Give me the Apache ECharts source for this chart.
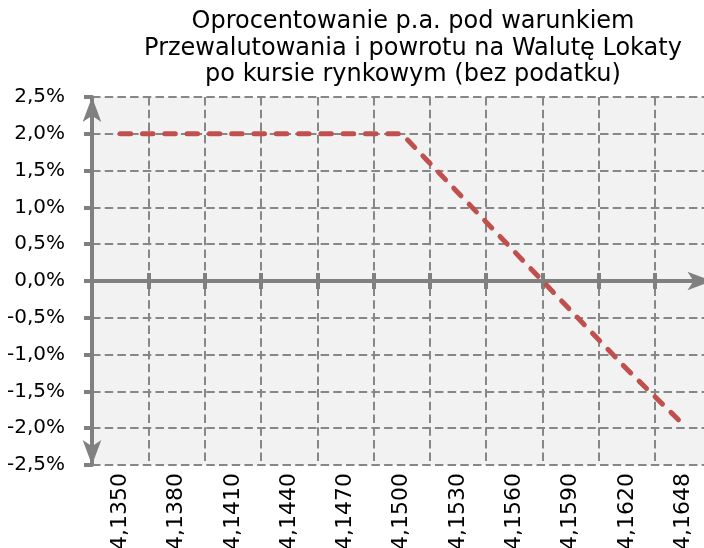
<!DOCTYPE html>
<html>
<head>
<meta charset="utf-8">
<script src="https://cdn.jsdelivr.net/npm/echarts@6/dist/echarts.min.js"></script>
<style>html,body{margin:0;padding:0;background:#fff}#c{width:704px;height:548px}</style>
</head>
<body>
<div id="c"></div>
<script>
const titleLines = ['Oprocentowanie p.a. pod warunkiem', 'Przewalutowania i powrotu na Walutę Lokaty', 'po kursie rynkowym (bez podatku)'];
const categories = ['4,1350', '4,1380', '4,1410', '4,1440', '4,1470', '4,1500', '4,1530', '4,1560', '4,1590', '4,1620', '4,1648'];
const rateValues = [2.0, 2.0, 2.0, 2.0, 2.0, 2.0, 1.2, 0.4, -0.4, -1.2, -1.95];
const yMin = -2.5, yMax = 2.5, yStep = 0.5;

const FONT = 'DejaVu Sans';
const AX = '#808080';
const GRIDC = '#878787';
const fmtPct = v => v.toFixed(1).replace('.', ',') + '%';
const plotRect = {left: 92, right: -7.5, top: 97, bottom: 83};

const chart = echarts.init(document.getElementById('c'), null, {renderer: 'canvas'});
chart.setOption({
  animation: false,
  title: {
    text: titleLines.join('\n'),
    left: 413, top: 9, padding: 0,
    textAlign: 'center',
    textStyle: {fontFamily: FONT, fontSize: 24, fontWeight: 'normal', color: '#000', lineHeight: 26.5}
  },
  grid: [
    Object.assign({show: true, backgroundColor: '#f2f2f2', borderWidth: 0, outerBoundsMode: 'none'}, plotRect),
    Object.assign({show: false, outerBoundsMode: 'none'}, plotRect)
  ],
  xAxis: [
    {
      type: 'category', gridIndex: 0, data: categories, boundaryGap: true, position: 'bottom',
      axisLine: {show: false, onZero: false},
      axisTick: {show: false},
      axisLabel: {interval: 0, rotate: 90, margin: 8, fontFamily: FONT, fontSize: 22, color: '#000'},
      splitLine: {show: true, interval: 0, lineStyle: {color: GRIDC, width: 2, type: [8.5, 4.2]}}
    },
    {
      type: 'category', gridIndex: 0, data: categories, boundaryGap: true, position: 'bottom',
      axisLine: {show: false, onZero: true, onZeroAxisIndex: 0},
      axisTick: {show: true, interval: 0, length: 8, lineStyle: {color: AX, width: 4}},
      axisLabel: {show: false}, splitLine: {show: false}
    },
    {
      type: 'category', gridIndex: 0, data: categories, boundaryGap: true, position: 'top',
      axisLine: {show: false, onZero: true, onZeroAxisIndex: 0},
      axisTick: {show: true, interval: 0, length: 8, lineStyle: {color: AX, width: 4}},
      axisLabel: {show: false}, splitLine: {show: false}
    },
    {
      type: 'value', gridIndex: 1, min: 0, max: 1,
      axisLine: {show: true, onZero: true, symbol: ['none', 'arrow'], symbolSize: [14, 24], symbolOffset: [0, 0],
        lineStyle: {color: AX, width: 4}},
      axisTick: {show: false}, axisLabel: {show: false}, splitLine: {show: false}
    }
  ],
  yAxis: [
    {
      type: 'value', gridIndex: 0, min: yMin, max: yMax, interval: yStep,
      axisLine: {show: false},
      axisTick: {show: false},
      axisLabel: {margin: 27, fontFamily: FONT, fontSize: 20, color: '#000', formatter: fmtPct},
      splitLine: {show: true, lineStyle: {color: GRIDC, width: 2, type: [8.5, 4.2]}}
    },
    {
      type: 'value', gridIndex: 1, min: yMin, max: yMax, interval: yStep, position: 'left',
      axisLine: {show: true, onZero: false, symbol: ['arrow', 'arrow'], symbolSize: [14, 25], symbolOffset: [0, 0],
        lineStyle: {color: AX, width: 4}},
      axisTick: {show: true, length: 8, lineStyle: {color: AX, width: 4}},
      axisLabel: {show: false}, splitLine: {show: false}
    }
  ],
  series: [{
    type: 'line', xAxisIndex: 0, yAxisIndex: 0, data: rateValues,
    symbol: 'none', z: 5,
    lineStyle: {color: '#c0504d', width: 5, type: [10.5, 11.8], cap: 'round', join: 'round'}
  }]
});
</script>
</body>
</html>
